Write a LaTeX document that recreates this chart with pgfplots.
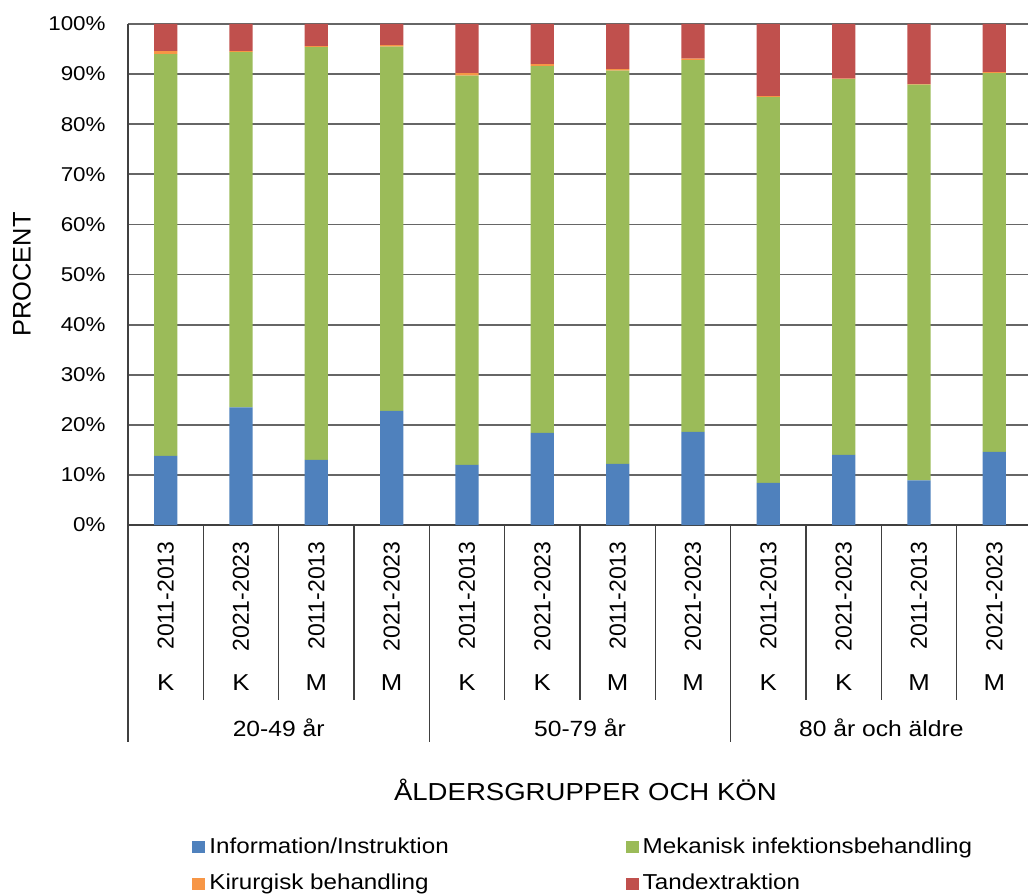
\documentclass[border=0pt]{standalone}
\usepackage{fontspec}
\setmainfont[FakeStretch=1.12]{Liberation Sans}
\newfontfamily\vfont{Liberation Sans}
\usepackage{pgfplots}
\pgfplotsset{compat=1.18}
\usepackage{pgfplotstable}

\definecolor{cInfo}{HTML}{4F81BD}
\definecolor{cMek}{HTML}{9BBB59}
\definecolor{cKir}{HTML}{F79646}
\definecolor{cTand}{HTML}{C0504D}
\definecolor{gridc}{HTML}{666666}
\definecolor{axc}{HTML}{404040}

\pgfplotstableread{
x info mek kir tand
1 13.8 80.2 0.6 5.4
2 23.5 70.9 0.2 5.4
3 13.0 82.4 0.2 4.4
4 22.8 72.7 0.3 4.2
5 12.0 77.7 0.5 9.8
6 18.4 73.2 0.4 8.0
7 12.2 78.5 0.3 9.0
8 18.6 74.2 0.3 6.9
9 8.4 77.0 0.2 14.4
10 14.0 75.0 0.1 10.9
11 8.9 79.0 0.1 12.0
12 14.6 75.6 0.2 9.6
}\datatable

\pgfplotsset{sqlegend/.style={legend image code/.code={\fill[##1] (0pt,-3pt) rectangle (6.5pt,3pt);}}}

\begin{document}
\begin{tikzpicture}
\useasboundingbox (0,0) rectangle (514pt,447.5pt);
\begin{axis}[
  at={(64pt,185pt)}, anchor=south west,
  width=452pt, height=250.5pt, scale only axis,
  ybar stacked, bar width=11.6pt,
  xmin=0.5, xmax=12.5, ymin=0, ymax=100,
  xtick={1,...,12},
  xticklabels={2011-2013,2021-2023,2011-2013,2021-2023,2011-2013,2021-2023,2011-2013,2021-2023,2011-2013,2021-2023,2011-2013,2021-2023},
  ytick={0,10,...,100},
  yticklabels={0\%,10\%,20\%,30\%,40\%,50\%,60\%,70\%,80\%,90\%,100\%},
  axis x line*=bottom, axis y line*=left,
  axis line style={axc, line width=0.8pt},
  ymajorgrids, grid style={gridc, line width=0.9pt},
  major tick length=0pt,
  clip=false,
  yticklabel style={font=\fontsize{10}{12}\selectfont, anchor=east, inner sep=0pt, xshift=-11pt},
  xticklabel style={font=\vfont\fontsize{11.5}{13}\selectfont, rotate=90, anchor=east, inner sep=0pt},
  xticklabel shift=8pt,
  xlabel={ÅLDERSGRUPPER OCH KÖN},
  xlabel style={at={(axis description cs:0.506,0)}, anchor=center, yshift=-132.5pt, font=\fontsize{12.3}{15}\selectfont},
  ylabel={PROCENT},
  ylabel style={at={(axis description cs:-0.1173,0.5)}, anchor=center, font=\vfont\fontsize{12.7}{15}\selectfont},
  legend style={draw=none, fill=none, at={(axis description cs:0.0708,-0.615)}, anchor=north west,
    inner sep=0pt, font=\fontsize{10.8}{13}\selectfont, row sep=5pt,
    /tikz/every even column/.append style={column sep=86.5pt}},
  legend columns=2,
  legend cell align=left,
]
\addplot[fill=cInfo, draw=none, sqlegend] table[x=x, y=info] {\datatable};
\addplot[fill=cMek, draw=none, sqlegend] table[x=x, y=mek] {\datatable};
\addplot[fill=cKir, draw=none, sqlegend] table[x=x, y=kir] {\datatable};
\addplot[fill=cTand, draw=none, sqlegend] table[x=x, y=tand] {\datatable};
\legend{Information/Instruktion, Mekanisk infektionsbehandling, Kirurgisk behandling, Tandextraktion}

% separators
\pgfplotsinvokeforeach{1.5,2.5,3.5,5.5,6.5,7.5,9.5,10.5,11.5}{
  \draw[axc, line width=0.8pt] (axis cs:#1,0) -- ([yshift=-87.5pt]axis cs:#1,0);
}
\pgfplotsinvokeforeach{0.5,4.5,8.5,12.5}{
  \draw[axc, line width=0.8pt] (axis cs:#1,0) -- ([yshift=-108.5pt]axis cs:#1,0);
}
% sex labels
\pgfplotsinvokeforeach{1,2,5,6,9,10}{
  \node[font=\fontsize{11.5}{13}\selectfont] at ([yshift=-79pt]axis cs:#1,0) {K};
}
\pgfplotsinvokeforeach{3,4,7,8,11,12}{
  \node[font=\fontsize{11.5}{13}\selectfont] at ([yshift=-79pt]axis cs:#1,0) {M};
}
% group labels
\node[font=\fontsize{11}{13}\selectfont] at ([yshift=-101.5pt]axis cs:2.5,0) {20-49 år};
\node[font=\fontsize{11}{13}\selectfont] at ([yshift=-101.5pt]axis cs:6.5,0) {50-79 år};
\node[font=\fontsize{11}{13}\selectfont] at ([yshift=-101.5pt]axis cs:10.5,0) {80 år och äldre};
\end{axis}
\end{tikzpicture}
\end{document}
